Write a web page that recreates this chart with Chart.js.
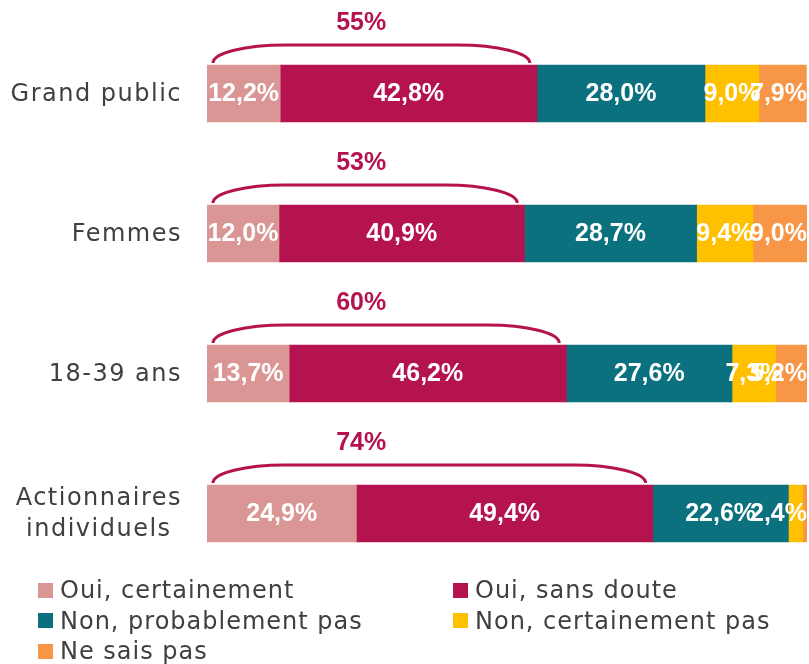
<!DOCTYPE html>
<html>
<head>
<meta charset="utf-8">
<script src="https://cdn.jsdelivr.net/npm/chart.js@4/dist/chart.umd.min.js"></script>
<style>
  html, body { margin: 0; padding: 0; background: #fff; }
  #wrap { position: relative; width: 809px; height: 664px; overflow: hidden; }
  #legend {
    position: absolute; left: 38px; top: 575px;
    display: grid; grid-template-columns: 415px auto;
    font: 24px "DejaVu Sans", sans-serif; color: #404040; letter-spacing: 1px;
  }
  .item { display: flex; align-items: center; height: 30.5px; white-space: nowrap; }
  .box { width: 15px; height: 15px; margin-right: 7px; flex: none; }
</style>
</head>
<body>
<div id="wrap">
  <canvas id="chart" width="809" height="664"></canvas>
  <div id="legend"></div>
</div>
<script>
// data
const categories = ["Grand public", "Femmes", "18-39 ans", ["Actionnaires", "individuels"]];
const seriesNames = ["Oui, certainement", "Oui, sans doute", "Non, probablement pas", "Non, certainement pas", "Ne sais pas"];
const ouiCertainement = [12.2, 12.0, 13.7, 24.9];
const ouiSansDoute = [42.8, 40.9, 46.2, 49.4];
const nonProbablement = [28.0, 28.7, 27.6, 22.6];
const nonCertainement = [9.0, 9.4, 7.3, 2.4];
const neSaisPas = [7.9, 9.0, 5.2, 0.7];
const ouiTotals = ["55%", "53%", "60%", "74%"];

const colors = ["#d99694", "#b5134f", "#0b717f", "#ffc000", "#f79646"];
const crimson = "#b5134f";

const allSeries = [ouiCertainement, ouiSansDoute, nonProbablement, nonCertainement, neSaisPas];

// white value labels inside the segments
const valueLabels = {
  id: "valueLabels",
  afterDatasetsDraw(chart) {
    const ctx = chart.ctx;
    const right = chart.chartArea.right;
    ctx.save();
    ctx.font = "bold 25px 'Liberation Sans', Arial, sans-serif";
    ctx.fillStyle = "#fff";
    ctx.textAlign = "center";
    ctx.textBaseline = "middle";
    chart.data.datasets.forEach((ds, di) => {
      const meta = chart.getDatasetMeta(di);
      meta.data.forEach((bar, i) => {
        const v = ds.data[i];
        if (v < 1) return;
        const txt = v.toFixed(1).replace(".", ",") + "%";
        const w = ctx.measureText(txt).width;
        let x = (bar.x + bar.base) / 2;
        if (x + w / 2 > right) x = right - w / 2;
        ctx.fillText(txt, x, bar.y + 1);
      });
    });
    ctx.restore();
  }
};

// brackets with the "Oui" totals above each bar
const ouiBrackets = {
  id: "ouiBrackets",
  afterDatasetsDraw(chart) {
    const ctx = chart.ctx;
    const xs = chart.scales.x;
    const meta = chart.getDatasetMeta(0);
    ctx.save();
    meta.data.forEach((bar, i) => {
      const top = bar.y - bar.height / 2;
      const x0 = xs.getPixelForValue(1);
      const x1 = xs.getPixelForValue(ouiCertainement[i] + ouiSansDoute[i] - 1.2);
      const yb = top - 2, ry = 18, rx = 72;
      ctx.strokeStyle = crimson;
      ctx.lineWidth = 3;
      ctx.beginPath();
      ctx.ellipse(x0 + rx, yb, rx, ry, 0, Math.PI, Math.PI * 1.5);
      ctx.lineTo(x1 - rx, yb - ry);
      ctx.ellipse(x1 - rx, yb, rx, ry, 0, Math.PI * 1.5, Math.PI * 2);
      ctx.stroke();
      ctx.fillStyle = crimson;
      ctx.font = "bold 25px 'Liberation Sans', Arial, sans-serif";
      ctx.textAlign = "center";
      ctx.textBaseline = "middle";
      ctx.fillText(ouiTotals[i], xs.getPixelForValue(25.7), top - 42);
    });
    ctx.restore();
  }
};

// category names left of the bars
const categoryLabels = {
  id: "categoryLabels",
  afterDraw(chart) {
    const ctx = chart.ctx;
    const ys = chart.scales.y;
    const edge = chart.chartArea.left - 25;
    ctx.save();
    ctx.font = "24px 'DejaVu Sans', sans-serif";
    ctx.letterSpacing = "1.5px";
    ctx.fillStyle = "#404040";
    ctx.textAlign = "center";
    ctx.textBaseline = "middle";
    categories.forEach((label, i) => {
      const lines = Array.isArray(label) ? label : [label];
      const maxW = Math.max(...lines.map(l => ctx.measureText(l).width));
      const cx = edge - maxW / 2;
      const yc = ys.getPixelForValue(i);
      const lh = 31;
      lines.forEach((l, k) => {
        ctx.fillText(l, cx, yc + 1 + (k - (lines.length - 1) / 2) * lh);
      });
    });
    ctx.restore();
  }
};

const chart = new Chart(document.getElementById("chart"), {
  type: "bar",
  data: {
    labels: categories,
    datasets: allSeries.map((d, i) => ({
      label: seriesNames[i],
      data: d,
      backgroundColor: colors[i],
      borderWidth: 0,
      barThickness: 57
    }))
  },
  options: {
    indexAxis: "y",
    responsive: false,
    animation: false,
    devicePixelRatio: 1,
    layout: { padding: { left: 207, right: 2, top: 23.5, bottom: 80.5 } },
    scales: {
      x: { stacked: true, min: 0, max: 100, display: false },
      y: { stacked: true, display: false }
    },
    plugins: {
      legend: { display: false },
      tooltip: { enabled: false }
    }
  },
  plugins: [valueLabels, ouiBrackets, categoryLabels]
});

// legend in two columns like the original
const legend = document.getElementById("legend");
seriesNames.forEach((name, i) => {
  const item = document.createElement("div");
  item.className = "item";
  item.innerHTML = `<span class="box" style="background:${colors[i]}"></span>${name}`;
  legend.appendChild(item);
});
</script>
</body>
</html>
